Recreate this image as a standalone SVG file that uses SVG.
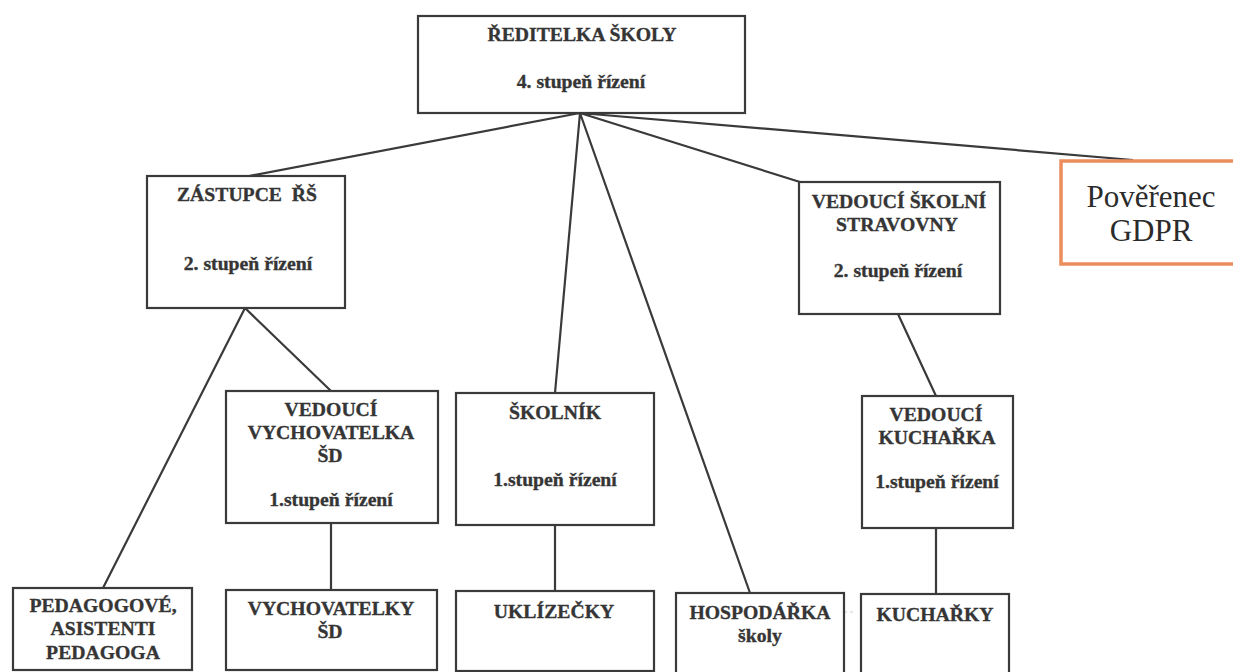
<svg xmlns="http://www.w3.org/2000/svg" width="1233" height="672" viewBox="0 0 1233 672">
<style>
.b{fill:#fff;stroke:#3a3a3a;stroke-width:2.2}
.t{font-family:"Liberation Serif",serif;font-weight:bold;font-size:19.7px;fill:#353535;stroke:#353535;stroke-width:.35;text-anchor:middle}
.p{font-family:"Liberation Serif",serif;font-size:31px;fill:#2b2b2b;text-anchor:middle}
.l{stroke:#3a3a3a;stroke-width:2.2;fill:none}
</style>
<rect width="1233" height="672" fill="#fff"/>
<g id="connectors">
<path d="M682 612H856" stroke="#ccc" stroke-width="1" stroke-dasharray="3 3" fill="none"/>
<path class="l" d="M580 113L249 176M580 113L1133 160M580 113L555 393M580 113L750 593M580 113L800 182M245 308L103 588M245 308L331 391M331 523V590M555 525V591M898 314L936 396M936 528V594"/>
</g>
<g id="n1"><rect class="b" x="418" y="16" width="327" height="97"/><text class="t" x="582" y="41">ŘEDITELKA ŠKOLY</text><text class="t" x="581" y="88">4. stupeň řízení</text></g>
<g id="n2"><rect class="b" x="147" y="176" width="198" height="132"/><text class="t" x="247" y="201" xml:space="preserve">ZÁSTUPCE  ŘŠ</text><text class="t" x="248" y="270">2. stupeň řízení</text></g>
<g id="n3"><rect class="b" x="799" y="182" width="201" height="132"/><text class="t" x="899" y="208">VEDOUCÍ ŠKOLNÍ</text><text class="t" x="897" y="231">STRAVOVNY</text><text class="t" x="898" y="277">2. stupeň řízení</text></g>
<g id="n4"><rect x="1061" y="161" width="185" height="103" fill="#fff" stroke="#ec8d5e" stroke-width="3.5"/><text class="p" x="1151" y="207">Pověřenec</text><text class="p" x="1151" y="241">GDPR</text></g>
<g id="n5"><rect class="b" x="226" y="391" width="212" height="132"/><text class="t" x="331" y="416">VEDOUCÍ</text><text class="t" x="331" y="439">VYCHOVATELKA</text><text class="t" x="330" y="462">ŠD</text><text class="t" x="331" y="506">1.stupeň řízení</text></g>
<g id="n6"><rect class="b" x="456" y="393" width="198" height="132"/><text class="t" x="555" y="419">ŠKOLNÍK</text><text class="t" x="555" y="486">1.stupeň řízení</text></g>
<g id="n7"><rect class="b" x="862" y="396" width="151" height="132"/><text class="t" x="936" y="421">VEDOUCÍ</text><text class="t" x="937" y="444">KUCHAŘKA</text><text class="t" x="937" y="488">1.stupeň řízení</text></g>
<g id="n8"><rect class="b" x="13" y="588" width="179" height="82"/><text class="t" x="103" y="612">PEDAGOGOVÉ,</text><text class="t" x="103" y="635">ASISTENTI</text><text class="t" x="103" y="659">PEDAGOGA</text></g>
<g id="n9"><rect class="b" x="226" y="590" width="211" height="80"/><text class="t" x="331" y="615">VYCHOVATELKY</text><text class="t" x="330" y="638">ŠD</text></g>
<g id="n10"><rect class="b" x="456" y="591" width="198" height="80"/><text class="t" x="554" y="618">UKLÍZEČKY</text></g>
<g id="n11"><rect class="b" x="676" y="593" width="168" height="90"/><text class="t" x="760" y="619">HOSPODÁŘKA</text><text class="t" x="760" y="642">školy</text></g>
<g id="n12"><rect class="b" x="861" y="594" width="148" height="90"/><text class="t" x="935" y="621">KUCHAŘKY</text></g>
</svg>
